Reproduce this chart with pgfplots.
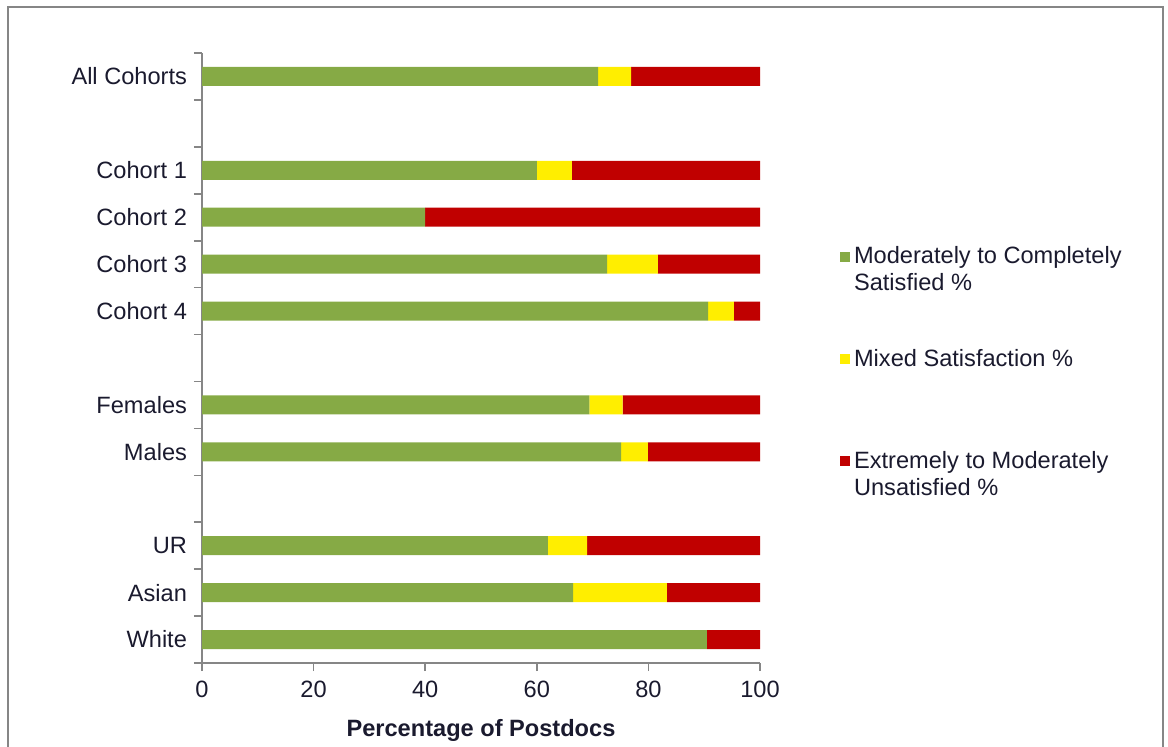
\documentclass[border=0pt]{standalone}
\usepackage{pgfplots}
\pgfplotsset{compat=1.18}
\usepackage{fontspec}
\setmainfont{Liberation Sans}
\definecolor{cgreen}{HTML}{86AA45}
\definecolor{cyellow}{HTML}{FFEE00}
\definecolor{cred}{HTML}{C00000}
\definecolor{axgray}{HTML}{868686}
\definecolor{txt}{HTML}{1A1A2E}
\begin{document}
\begin{tikzpicture}
\useasboundingbox (0pt,0pt) rectangle (584pt,373pt);
\draw[color=axgray,line width=1pt] (4pt,-10pt) -- (4pt,369.5pt) -- (581.5pt,369.5pt) -- (581.5pt,-10pt);
\begin{axis}[
  at={(101pt,41.5pt)}, anchor=south west,
  scale only axis, width=279pt, height=305pt,
  xbar stacked, bar width=9.5pt,
  y dir=reverse,
  xmin=0, xmax=100, ymin=-0.5, ymax=12.5,
  axis lines*=left,
  axis line style={color=axgray, line width=0.8pt},
  xtick={0,20,...,100},
  ytick={-0.5,0.5,...,12.5},
  yticklabels={},
  extra y ticks={0,2,3,4,5,7,8,10,11,12},
  extra y tick labels={All Cohorts,Cohort 1,Cohort 2,Cohort 3,Cohort 4,Females,Males,UR,Asian,White},
  extra y tick style={major tick length=0pt, tick style={draw=none}},
  tick align=outside,
  major tick length=4pt,
  tick style={draw=axgray, line width=0.8pt},
  every tick label/.append style={font=\fontsize{11.8}{13}\selectfont, text=txt},
  yticklabel style={xshift=-4pt},
  xticklabel style={yshift=-1.5pt},
  /pgf/number format/assume math mode=true,
  xlabel={\textbf{Percentage of Postdocs}},
  xlabel style={font=\fontsize{11.8}{13}\selectfont, text=txt, yshift=-4pt},
  legend style={at={(1.132,0.696)}, anchor=north west, draw=none, fill=none,
    font=\fontsize{11.8}{13.5}\selectfont, text=txt,
    cells={anchor=west, align=left},
    row sep=23.5pt},
  legend cell align=left,
  legend image code/.code={\fill[#1] (0pt,4.2pt) rectangle (5pt,9.2pt);},
]
\addplot[fill=cgreen, draw=none] coordinates {(71.0,0) (60.0,2) (40.0,3) (72.6,4) (90.7,5) (69.4,7) (75.1,8) (62.0,10) (66.5,11) (90.5,12)};
\addplot[fill=cyellow, draw=none] coordinates {(5.9,0) (6.3,2) (0,3) (9.1,4) (4.6,5) (6.0,7) (4.8,8) (7.0,10) (16.8,11) (0,12)};
\addplot[fill=cred, draw=none] coordinates {(23.1,0) (33.7,2) (60.0,3) (18.3,4) (4.7,5) (24.6,7) (20.1,8) (31.0,10) (16.7,11) (9.5,12)};
\legend{Moderately to Completely\\Satisfied \%, Mixed Satisfaction \%\\\mbox{}, Extremely to Moderately\\Unsatisfied \%}
\end{axis}
\end{tikzpicture}
\end{document}
